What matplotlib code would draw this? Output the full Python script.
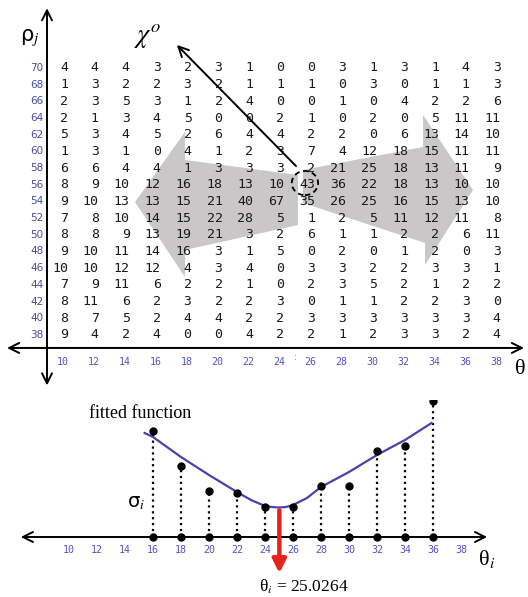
import matplotlib.pyplot as plt
from matplotlib.patches import Polygon, Ellipse

plt.rcParams['mathtext.fontset'] = 'stix'

# accumulator grid (rows rho = 70..38, columns theta = 10..38)
theta = [10, 12, 14, 16, 18, 20, 22, 24, 26, 28, 30, 32, 34, 36, 38]
rho = [70, 68, 66, 64, 62, 60, 58, 56, 54, 52, 50, 48, 46, 44, 42, 40, 38]
grid = [
    [4, 4, 4, 3, 2, 3, 1, 0, 0, 3, 1, 3, 1, 4, 3],
    [1, 3, 2, 2, 3, 2, 1, 1, 1, 0, 3, 0, 1, 1, 3],
    [2, 3, 5, 3, 1, 2, 4, 0, 0, 1, 0, 4, 2, 2, 6],
    [2, 1, 3, 4, 5, 0, 0, 2, 1, 0, 2, 0, 5, 11, 11],
    [5, 3, 4, 5, 2, 6, 4, 4, 2, 2, 0, 6, 13, 14, 10],
    [1, 3, 1, 0, 4, 1, 2, 3, 7, 4, 12, 18, 15, 11, 11],
    [6, 6, 4, 4, 1, 3, 3, 3, 2, 21, 25, 18, 13, 11, 9],
    [8, 9, 10, 12, 16, 18, 13, 10, 43, 36, 22, 18, 13, 10, 10],
    [9, 10, 13, 13, 15, 21, 40, 67, 35, 26, 25, 16, 15, 13, 10],
    [7, 8, 10, 14, 15, 22, 28, 5, 1, 2, 5, 11, 12, 11, 8],
    [8, 8, 9, 13, 19, 21, 3, 2, 6, 1, 1, 2, 2, 6, 11],
    [9, 10, 11, 14, 16, 3, 1, 5, 0, 2, 0, 1, 2, 0, 3],
    [10, 10, 12, 12, 4, 3, 4, 0, 3, 3, 2, 2, 3, 3, 1],
    [7, 9, 11, 6, 2, 2, 1, 0, 2, 3, 5, 2, 1, 2, 2],
    [8, 11, 6, 2, 3, 2, 2, 3, 0, 1, 1, 2, 2, 3, 0],
    [8, 7, 5, 2, 4, 4, 2, 2, 3, 3, 3, 3, 3, 3, 4],
    [9, 4, 2, 4, 0, 0, 4, 2, 2, 1, 2, 3, 3, 2, 4],
]

# spread of each theta column (lower plot)
sigma_theta = [16, 18, 20, 22, 24, 26, 28, 30, 32, 34, 36]
sigma = [10.6, 7.1, 4.6, 4.4, 3.0, 3.0, 5.1, 5.1, 8.6, 9.1, 13.6]

# fitted curve
fit_theta = [15.4, 16, 18, 20, 22, 23, 24, 24.5, 25, 25.5, 26, 27, 28, 30, 32, 34, 35.9]
fit_sigma = [10.4, 10.0, 8.0, 6.2, 4.5, 3.7, 3.1, 3.0, 2.95, 3.0, 3.2, 3.9, 5.0, 6.5, 8.2, 9.7, 11.4]
theta_min = 25.0264

blue = '#4a4aa8'
tick_blue = '#5252c4'
gray = '#c9c7c7'

fig = plt.figure(figsize=(5.28, 5.97), dpi=100)

# ---------- top: accumulator ----------
ax = fig.add_axes([0, 197 / 597, 1, 400 / 597])
ax.set_xlim(5.925, 40.08)
ax.set_ylim(30.19, 78.15)
ax.axis('off')

left_arrow = [(14.66, 53.93), (17.89, 62.33), (17.89, 58.97), (25.2, 57.17),
              (25.2, 51.17), (17.89, 48.18), (17.89, 44.94)]
right_arrow = [(36.52, 55.37), (33.29, 64.36), (33.29, 60.53), (25.52, 57.77),
               (25.52, 53.81), (33.42, 49.02), (33.42, 46.38)]
ax.add_patch(Polygon(left_arrow, closed=True, fc=gray, ec='none', zorder=1))
ax.add_patch(Polygon(right_arrow, closed=True, fc=gray, ec='none', zorder=1))

for i, r in enumerate(rho):
    for j, t in enumerate(theta):
        ax.text(t + 0.32, r, str(grid[i][j]), ha='right', va='center',
                family='DejaVu Sans Mono', fontsize=9.5, color='#1a1a1a', zorder=3)
    ax.text(8.75, r, str(r), ha='right', va='center', family='DejaVu Sans',
            fontsize=7.5, color=blue, zorder=3)

for t in theta:
    ax.text(t, 34.75, str(t), ha='center', va='center', family='DejaVu Sans Mono',
            fontsize=7.2, color=tick_blue)
ax.text(25.0, 35.3, ':', ha='center', va='center', fontsize=6, color=tick_blue)

# axes arrows
ax.annotate('', xy=(8.965, 77.5), xytext=(8.965, 31.6),
            arrowprops=dict(arrowstyle='<->', lw=1.4, color='black', mutation_scale=18))
ax.annotate('', xy=(40.0, 36.43), xytext=(6.2, 36.43),
            arrowprops=dict(arrowstyle='<->', lw=1.4, color='black', mutation_scale=18))

ax.text(7.85, 73.6, r'ρ$_{j}$', ha='center', va='center', fontsize=15, family='DejaVu Sans')
ax.text(39.6, 33.9, 'θ', ha='center', va='center', fontsize=16, family='Liberation Serif')

# peak marker and direction arrow
ax.add_patch(Ellipse((25.65, 56.2), 1.7, 2.9, fill=False, ls=(0, (3, 2)), lw=1.3,
                     ec='black', zorder=4))
ax.annotate('', xy=(17.24, 73.0), xytext=(25.2, 58.0),
            arrowprops=dict(arrowstyle='->', lw=1.4, color='black', mutation_scale=18))
ax.text(15.5, 73.8, r'$\chi^{o}$', ha='center', va='center', fontsize=19)

# ---------- bottom: fitted spread ----------
bx = fig.add_axes([0, 0, 1, 197 / 597])
bx.set_xlim(5.07, 42.79)
bx.set_ylim(-6.0, 13.7)
bx.axis('off')

bx.annotate('', xy=(40.07, 0), xytext=(6.36, 0),
            arrowprops=dict(arrowstyle='<->', lw=1.4, color='black', mutation_scale=18))
for t in theta:
    bx.text(t, -1.3, str(t), ha='center', va='center', family='DejaVu Sans Mono',
            fontsize=7.2, color=tick_blue)

bx.vlines(sigma_theta, 0, sigma, colors='black', linestyles=':', lw=1.6, zorder=2)
bx.plot(sigma_theta, sigma, 'o', color='black', ms=5, zorder=4)
bx.plot(sigma_theta, [0] * len(sigma_theta), 'o', color='black', ms=5, zorder=4)
bx.plot(fit_theta, fit_sigma, color='#4a42a8', lw=1.6, zorder=3)

bx.annotate('', xy=(theta_min, -3.9), xytext=(theta_min, fit_sigma[8]),
            arrowprops=dict(arrowstyle='-|>', lw=3.2, color='#e8231e',
                            mutation_scale=20), zorder=5)

bx.text(11.4, 12.3, 'fitted function', ha='left', va='center', fontsize=13,
        family='Liberation Serif')
bx.text(14.8, 3.4, r'σ$_{i}$', ha='center', va='center', fontsize=14,
        family='DejaVu Sans')
bx.text(39.8, -2.2, r'θ$_{i}$', ha='center', va='center', fontsize=16,
        family='Liberation Serif')
bx.text(26.8, -5.0, r'θ$_{i}$ = 25.0264', ha='center', va='center', fontsize=12.5,
        family='Liberation Serif')

fig.savefig('out.png', dpi=100)
